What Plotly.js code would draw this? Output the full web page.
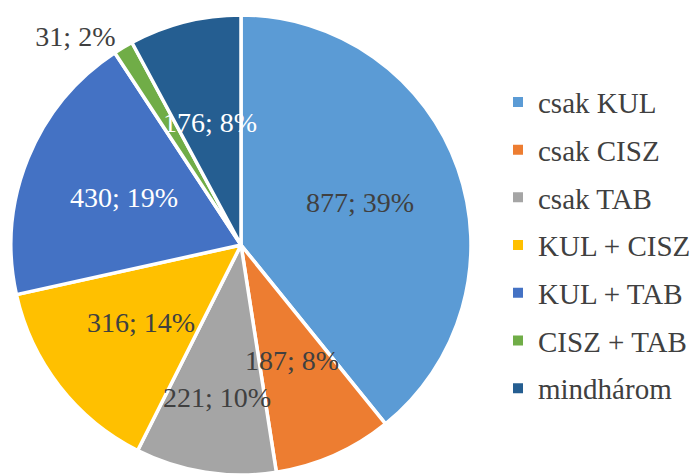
<!DOCTYPE html>
<html>
<head>
<meta charset="utf-8">
<script src="https://cdn.plot.ly/plotly-3.0.1.min.js"></script>
<style>
html,body{margin:0;padding:0;background:#fff;}
#chart{width:696px;height:475px;}
svg text{font-family:"Liberation Serif","Times New Roman",serif !important;}
</style>
</head>
<body>
<div id="chart"></div>
<script>
const categories = ["csak KUL", "csak CISZ", "csak TAB", "KUL + CISZ", "KUL + TAB", "CISZ + TAB", "mindhárom"];
const values = [877, 187, 221, 316, 430, 31, 176];
const percents = [39, 8, 10, 14, 19, 2, 8];
const colors = ["#5B9BD5", "#ED7D31", "#A5A5A5", "#FFC000", "#4472C4", "#70AD47", "#255E91"];
const textColors = ["#404040", "#404040", "#404040", "#404040", "#FFFFFF", "#404040", "#FFFFFF"];
const outsideSlice = [false, false, false, false, false, true, false];

const labelsText = values.map((v, i) => v + "; " + percents[i] + "%");

const serifFamily = "Liberation Serif";
const labelSize = 28;
const legendSize = 29;
const W = 696, H = 475;
const domX = [11 / W, 471 / W], domY = [0, 460 / H];

const traces = [{
  type: "pie",
  labels: categories,
  values: values,
  text: labelsText,
  textinfo: "text",
  textposition: outsideSlice.map(o => o ? "outside" : "none"),
  sort: false,
  direction: "clockwise",
  rotation: 0,
  marker: {colors: colors, line: {color: "#FFFFFF", width: 3.5}},
  textfont: {family: serifFamily, size: labelSize, color: "#404040"},
  outsidetextfont: {family: serifFamily, size: labelSize, color: "#404040"},
  domain: {x: domX, y: domY},
  showlegend: false,
  hoverinfo: "label+value+percent"
}];

// legend entries (one per category, no data drawn)
categories.forEach((c, i) => {
  traces.push({
    type: "scatter",
    mode: "markers",
    x: [null], y: [null],
    name: c,
    legendgroup: "g" + i,
    marker: {symbol: "square", size: 10, color: colors[i]},
    showlegend: true,
    hoverinfo: "skip"
  });
});

// inside labels: placed at mid-angle of each slice (computed from the values),
// pushed outward along the radius if they would collide with an earlier label
const total = values.reduce((a, b) => a + b, 0);
const cx = (domX[0] + domX[1]) / 2 * W;
const cy = (1 - (domY[0] + domY[1]) / 2) * H;
const R = Math.min((domX[1] - domX[0]) * W, (domY[1] - domY[0]) * H) / 2;
const annotations = [];
const boxes = [];
const pad = 8;
let cum = 0;
values.forEach((v, i) => {
  const mid = (cum + v / 2) / total * 2 * Math.PI;
  cum += v;
  if (outsideSlice[i]) return;
  const w = labelsText[i].length * 0.47 * labelSize, h = labelSize;
  let r = 0.55 * R, px, py, box;
  for (;;) {
    px = cx + r * Math.sin(mid);
    py = cy - r * Math.cos(mid);
    box = [px - w / 2, py - h / 2, px + w / 2, py + h / 2];
    const hit = boxes.some(b => !(box[2] + pad < b[0] || box[0] - pad > b[2] || box[3] + pad < b[1] || box[1] - pad > b[3]));
    if (!hit || r > 0.8 * R) break;
    r += 0.02 * R;
  }
  boxes.push(box);
  annotations.push({
    xref: "paper", yref: "paper",
    x: px / W, y: 1 - py / H,
    xanchor: "center", yanchor: "middle",
    text: labelsText[i], showarrow: false,
    font: {family: serifFamily, size: labelSize, color: textColors[i]}
  });
});

const layout = {
  width: W, height: H,
  margin: {l: 0, r: 0, t: 0, b: 0},
  font: {family: serifFamily, size: labelSize, color: "#404040"},
  paper_bgcolor: "#FFFFFF",
  plot_bgcolor: "#FFFFFF",
  xaxis: {visible: false, domain: [0.7, 1]},
  yaxis: {visible: false},
  showlegend: true,
  annotations: annotations,
  legend: {
    x: 0.716, y: 0.484, xanchor: "left", yanchor: "middle",
    font: {family: serifFamily, size: legendSize, color: "#404040"},
    tracegroupgap: 7,
    itemwidth: 30,
    bgcolor: "rgba(0,0,0,0)"
  }
};

Plotly.newPlot("chart", traces, layout, {displayModeBar: false, staticPlot: true});
</script>
</body>
</html>
